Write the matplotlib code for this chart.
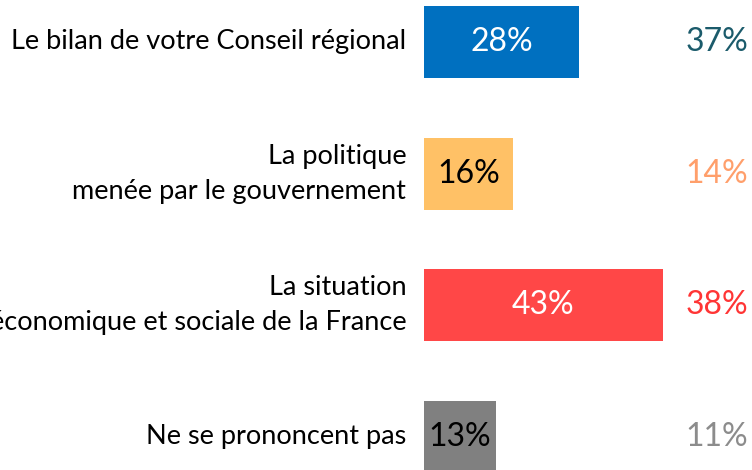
import matplotlib.pyplot as plt

categories = ["Le bilan de votre Conseil régional",
              "La politique\nmenée par le gouvernement",
              "La situation\néconomique et sociale de la France",
              "Ne se prononcent pas"]
current = [28, 16, 43, 13]
previous = [37, 14, 38, 11]

bar_colors = ["#0070C0", "#FFC166", "#FF4747", "#808080"]
inner_colors = ["white", "black", "white", "black"]
prev_colors = ["#1B5B6B", "#FF9F6B", "#FF3535", "#8C8C8C"]

plt.rcParams['font.family'] = ['Lato', 'DejaVu Sans']

fig = plt.figure(figsize=(7.52, 4.70), dpi=100)
ax = fig.add_axes([0, 0, 1, 1])

# 1% = 5.55 px, bars start at x=424 px
px = 5.55
ax.set_xlim(-424 / px, (752 - 424) / px)
# rows 131.6 px apart, first centre at 42 px from top
step = 131.6
ax.set_ylim((470 - 42) / step, -42 / step)

ys = range(len(categories))
ax.barh(ys, current, height=72 / step, color=bar_colors, left=0)

for y, cat, v, c, pv, pc in zip(ys, categories, current, inner_colors, previous, prev_colors):
    ax.text(-3.2, y, cat, ha='right', va='center', fontsize=19.5,
            linespacing=1.5, color='black')
    ax.text(v / 2, y, f"{v}%", ha='center', va='center', fontsize=23, color=c)
    ax.text(52.7, y, f"{pv}%", ha='center', va='center', fontsize=23, color=pc)

ax.axis('off')
fig.savefig("out.png", dpi=100)
